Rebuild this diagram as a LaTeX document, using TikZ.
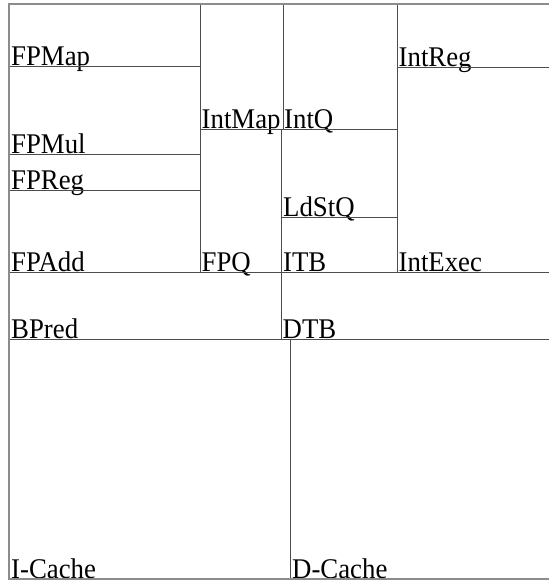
\documentclass[tikz,border=0pt]{standalone}
\usepackage{fontspec}
\setmainfont{Liberation Serif}
\usepackage{tikz}
\usetikzlibrary{positioning}

\tikzset{
  unit/.style={draw=black!70, line width=0.7pt},
  rim/.style={draw=black!45, line width=1.6pt},
  unitname/.style={anchor=base west, inner sep=0pt, text depth=0pt,
    xscale=0.94, transform shape, font=\fontsize{28.5}{30}\selectfont},
}

\begin{document}
\begin{tikzpicture}[x=1pt, y=-1pt]
\useasboundingbox (0,0) rectangle (549,582);
\clip (0,0) rectangle (549,582);
% FP cluster
\draw[unit] (9,4) rectangle (200,66);
\node[unitname] (fpmap) at (11,65) {FPMap};
\draw[unit] (9,66) rectangle (200,154);
\node[unitname] (fpmul) at (11,153) {FPMul};
\draw[unit] (9,154) rectangle (200,190);
\node[unitname] (fpreg) at (11,189) {FPReg};
\draw[unit] (9,190) rectangle (200,272);
\node[unitname] (fpadd) at (11,271) {FPAdd};
% Map and queues
\draw[unit] (200,4) rectangle (283,129);
\node[unitname] (intmap) at (201.5,128) {IntMap};
\draw[unit] (200,129) rectangle (281,272);
\node[unitname] (fpq) at (201.5,271) {FPQ};
\draw[unit] (283,4) rectangle (397,129);
\node[unitname] (intq) at (284,128) {IntQ};
\draw[unit] (281,129) rectangle (397,217);
\node[unitname] (ldstq) at (283,216) {LdStQ};
\draw[unit] (281,217) rectangle (397,272);
\node[unitname] (itb) at (283,271) {ITB};
% Integer cluster
\draw[unit] (397,4) rectangle (560,67);
\node[unitname] (intreg) at (398.5,66) {IntReg};
\draw[unit] (397,67) rectangle (560,272);
\node[unitname] (intexec) at (398.5,271) {IntExec};
% Predictor and TLB
\draw[unit] (9,272) rectangle (281,339);
\node[unitname] (bpred) at (11,338) {BPred};
\draw[unit] (281,272) rectangle (560,339);
\node[unitname] (dtb) at (282.5,338) {DTB};
% Caches
\draw[unit] (9,339) rectangle (290,579);
\node[unitname] (icache) at (11,578) {I-Cache};
\draw[unit] (290,339) rectangle (560,579);
\node[unitname] (dcache) at (292,578) {D-Cache};
% Die outline
\draw[rim] (560,4) -- (9,4) -- (9,579) -- (560,579);
\end{tikzpicture}
\end{document}
